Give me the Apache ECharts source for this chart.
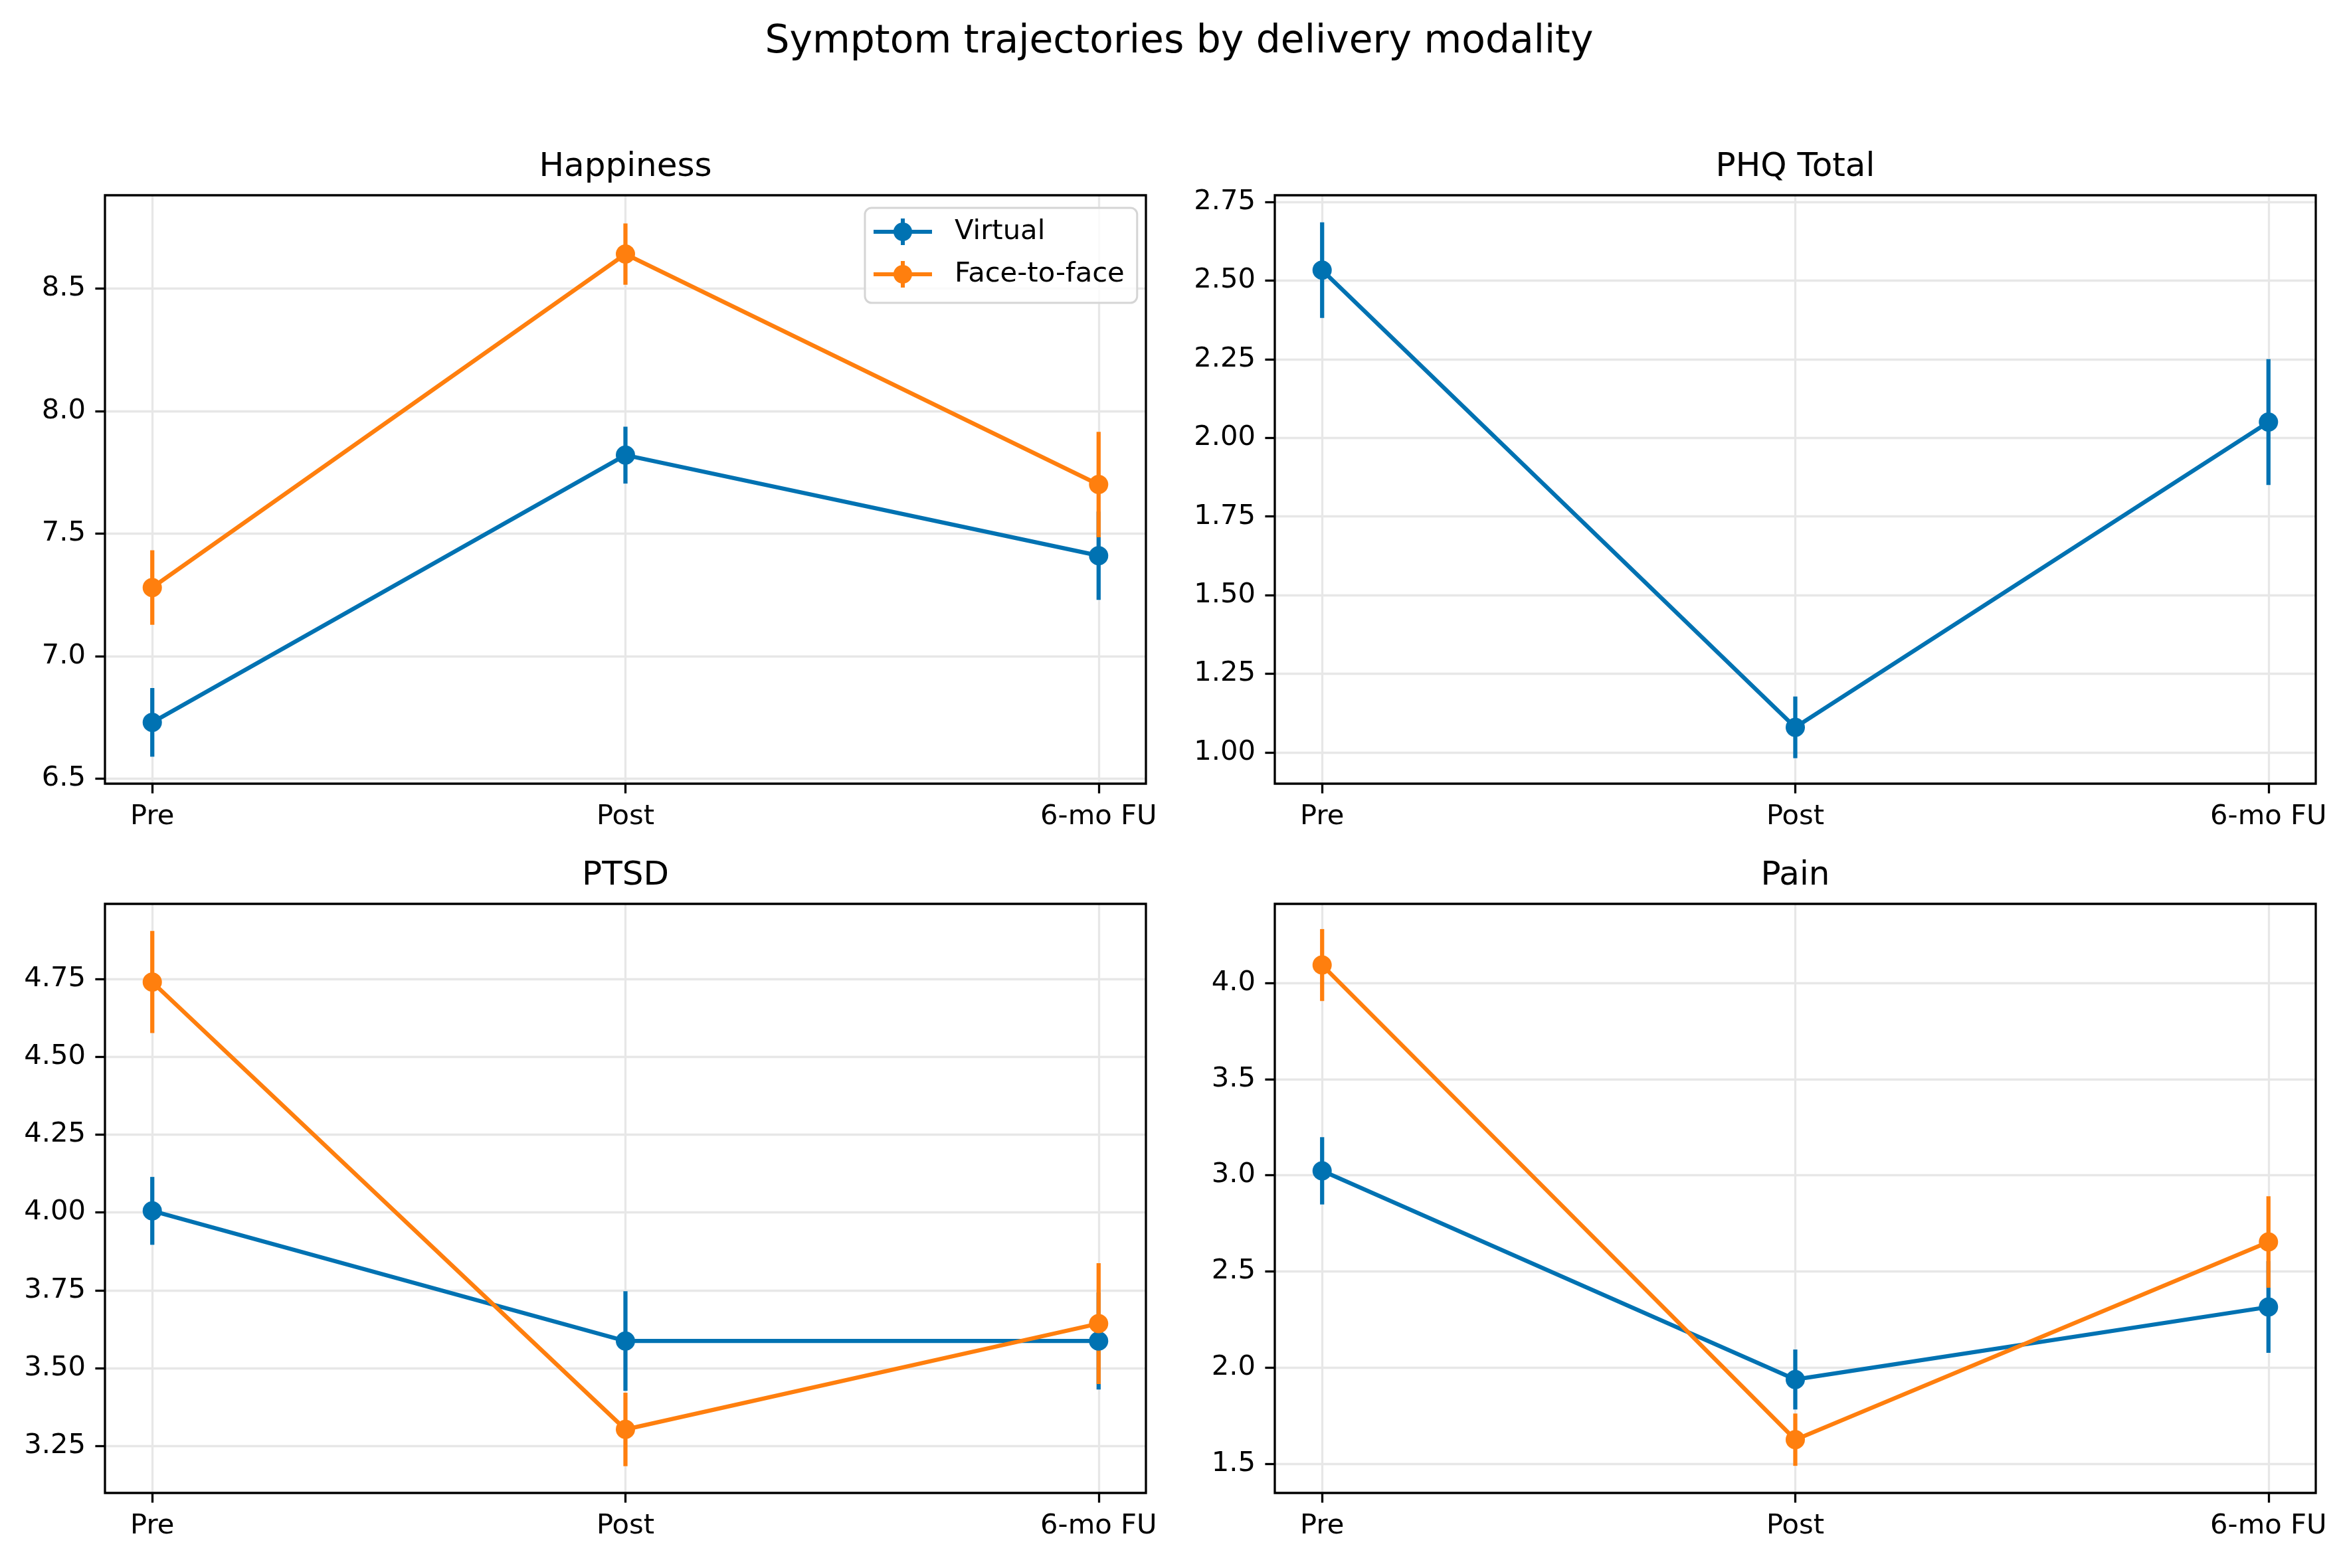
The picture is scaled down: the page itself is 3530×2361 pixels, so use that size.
<!DOCTYPE html>
<html lang="en">
<head>
    <meta charset="UTF-8">
    <title>Symptom trajectories by delivery modality</title>
    <script src="https://cdn.jsdelivr.net/npm/echarts@6/dist/echarts.min.js"></script>
    <style>
        html, body { margin: 0; padding: 0; background: #fff; }
        #chart { width: 3530px; height: 2361px; }
    </style>
</head>
<body>
<div id="chart"></div>
<script>
    // data
    var timepoints = ['Pre', 'Post', '6-mo FU'];
    var timeIndex = [0, 1, 2];

    var happinessVirtual = [6.73, 7.82, 7.41];
    var happinessVirtualErr = [0.14, 0.116, 0.18];
    var happinessFace = [7.28, 8.64, 7.70];
    var happinessFaceErr = [0.152, 0.125, 0.215];

    var phqVirtual = [2.533, 1.08, 2.05];
    var phqVirtualErr = [0.152, 0.098, 0.2];

    var ptsdVirtual = [4.005, 3.587, 3.587];
    var ptsdVirtualErr = [0.109, 0.16, 0.156];
    var ptsdFace = [4.74, 3.303, 3.643];
    var ptsdFaceErr = [0.164, 0.118, 0.194];

    var painVirtual = [3.023, 1.938, 2.315];
    var painVirtualErr = [0.175, 0.156, 0.238];
    var painFace = [4.093, 1.625, 2.653];
    var painFaceErr = [0.187, 0.136, 0.238];

    var happinessTicks = [6.5, 7.0, 7.5, 8.0, 8.5];
    var phqTicks = [1.00, 1.25, 1.50, 1.75, 2.00, 2.25, 2.50, 2.75];
    var ptsdTicks = [3.25, 3.50, 3.75, 4.00, 4.25, 4.50, 4.75];
    var painTicks = [1.5, 2.0, 2.5, 3.0, 3.5, 4.0];

    var BLUE = '#0072B2';
    var ORANGE = '#FF7F0E';
    var FONT = 'DejaVu Sans';

    var panels = [
        {title: 'Happiness', ymin: 6.48, ymax: 8.88, ticks: happinessTicks, dec: 1,
            groups: [['Virtual', happinessVirtual, happinessVirtualErr, BLUE],
                     ['Face-to-face', happinessFace, happinessFaceErr, ORANGE]]},
        {title: 'PHQ Total', ymin: 0.901, ymax: 2.771, ticks: phqTicks, dec: 2,
            groups: [['Virtual', phqVirtual, phqVirtualErr, BLUE]]},
        {title: 'PTSD', ymin: 3.099, ymax: 4.991, ticks: ptsdTicks, dec: 2,
            groups: [['Virtual', ptsdVirtual, ptsdVirtualErr, BLUE],
                     ['Face-to-face', ptsdFace, ptsdFaceErr, ORANGE]]},
        {title: 'Pain', ymin: 1.348, ymax: 4.411, ticks: painTicks, dec: 1,
            groups: [['Virtual', painVirtual, painVirtualErr, BLUE],
                     ['Face-to-face', painFace, painFaceErr, ORANGE]]}
    ];

    // left, top, width, height of each axes box
    var boxes = [[158, 294, 1567, 886], [1919, 294, 1567, 886],
                 [158, 1361, 1567, 887], [1919, 1361, 1567, 887]];

    var LW = 6.25;

    function renderErrorBar(params, api) {
        var x = api.value(0), m = api.value(1), e = api.value(2);
        var lo = api.coord([x, m - e]);
        var hi = api.coord([x, m + e]);
        return {
            type: 'line',
            shape: {x1: lo[0], y1: lo[1], x2: hi[0], y2: hi[1]},
            style: {stroke: api.visual('color'), lineWidth: LW}
        };
    }

    var grids = [], xAxes = [], yAxes = [], series = [];
    var titles = [{
        text: 'Symptom trajectories by delivery modality',
        left: 1775, top: 64, padding: 0,
        textAlign: 'center', textVerticalAlign: 'middle',
        textStyle: {fontSize: 58.3, fontWeight: 'normal', color: '#000', fontFamily: FONT}
    }];

    panels.forEach(function (p, i) {
        var b = boxes[i];
        grids.push({left: b[0], top: b[1], width: b[2], height: b[3], show: true,
            borderColor: '#000', borderWidth: 3.3, backgroundColor: 'transparent', z: 1});
        titles.push({
            text: p.title, left: b[0] + b[2] / 2, top: b[1] - 42, padding: 0,
            textAlign: 'center', textVerticalAlign: 'middle',
            textStyle: {fontSize: 50, fontWeight: 'normal', color: '#000', fontFamily: FONT}
        });
        xAxes.push({
            type: 'value', gridIndex: i, min: -0.1, max: 2.1, z: 0,
            axisLine: {show: false, onZero: false},
            axisTick: {show: true, customValues: timeIndex, length: 14.6,
                lineStyle: {color: '#000', width: 3.3}},
            axisLabel: {customValues: timeIndex, margin: 29, fontSize: 41.7, color: '#000',
                fontFamily: FONT, formatter: function (v) { return timepoints[Math.round(v)]; }},
            splitLine: {show: true, lineStyle: {color: '#e7e7e7', width: 3.3}}
        });
        yAxes.push({
            type: 'value', gridIndex: i, min: p.ymin, max: p.ymax, z: 0,
            axisLine: {show: false, onZero: false},
            axisTick: {show: true, customValues: p.ticks, length: 14.6,
                lineStyle: {color: '#000', width: 3.3}},
            axisLabel: {customValues: p.ticks, margin: 29, fontSize: 41.7, color: '#000',
                fontFamily: FONT, formatter: function (v) { return v.toFixed(p.dec); }},
            splitLine: {show: true, lineStyle: {color: '#e7e7e7', width: 3.3}}
        });
        // error bars sit under every data line, as in the source figure
        p.groups.forEach(function (g, k) {
            series.push({
                type: 'custom', name: g[0] + ' err', xAxisIndex: i, yAxisIndex: i,
                z: 2 + k, silent: true,
                itemStyle: {color: g[3]},
                encode: {x: 0, y: 1},
                renderItem: renderErrorBar,
                data: timeIndex.map(function (x, j) { return [x, g[1][j], g[2][j]]; })
            });
        });
        p.groups.forEach(function (g, k) {
            series.push({
                type: 'line', name: g[0], xAxisIndex: i, yAxisIndex: i,
                z: 4 + k, silent: true,
                symbol: 'circle', symbolSize: 29, showSymbol: true,
                itemStyle: {color: g[3]},
                lineStyle: {color: g[3], width: LW},
                emphasis: {disabled: true},
                data: timeIndex.map(function (x, j) { return [x, g[1][j]]; })
            });
        });
    });

    var legendIcon = 'path://M0 17L88 17L88 23L0 23Z M41 0L47 0L47 40L41 40Z ' +
        'M30 20A14 14 0 1 1 58 20A14 14 0 1 1 30 20Z';

    var chart = echarts.init(document.getElementById('chart'), null, {renderer: 'canvas'});
    var option = {
        animation: false,
        backgroundColor: '#fff',
        title: titles,
        legend: {
            data: ['Virtual', 'Face-to-face'],
            orient: 'vertical', left: 1302, top: 313,
            icon: legendIcon, itemWidth: 88, itemHeight: 40, itemGap: 22,
            selectedMode: false,
            backgroundColor: 'rgba(255,255,255,0.8)',
            borderColor: '#d5d5d5', borderWidth: 3, borderRadius: 10,
            padding: [15, 19, 22, 13],
            textStyle: {fontSize: 41.7, color: '#000', fontFamily: FONT, padding: [0, 0, 0, 29], lineHeight: 40}
        },
        grid: grids,
        xAxis: xAxes,
        yAxis: yAxes,
        series: series
    };
    chart.setOption(option);
</script>
</body>
</html>
